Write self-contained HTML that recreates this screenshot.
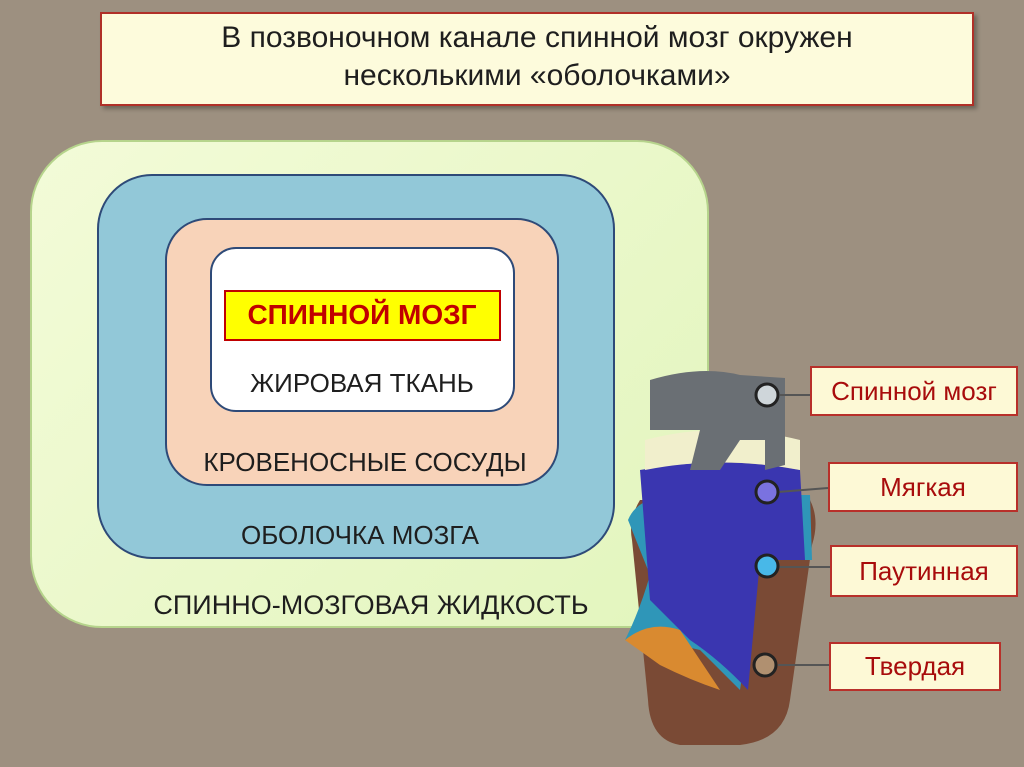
<!DOCTYPE html>
<html><head><meta charset="utf-8"><style>
html,body{margin:0;padding:0}
body{width:1024px;height:767px;background:#9d9080;position:relative;overflow:hidden;font-family:"Liberation Sans","DejaVu Sans",sans-serif}
.a{position:absolute;box-sizing:border-box}
.t{position:absolute;white-space:nowrap;transform:translateX(-50%);font-size:26px;color:#1e1e1e}
.lb{position:absolute;box-sizing:border-box;background:#fdf9d6;border:2px solid #b8302a;color:#a80c0c;font-size:26px;display:flex;align-items:center;justify-content:center}
</style></head><body>
<div class="a" style="left:100px;top:12px;width:874px;height:94px;background:#fdfbdc;border:2px solid #b03028;box-shadow:3px 3px 4px rgba(0,0,0,.3)"></div>
<div class="t" style="left:537px;top:21px;font-size:30px">В позвоночном канале спинной мозг окружен</div>
<div class="t" style="left:537px;top:59px;font-size:30px">несколькими «оболочками»</div>

<div class="a" style="left:30px;top:140px;width:679px;height:488px;border-radius:72px;background:linear-gradient(135deg,#f3fbd8,#e2f5bd);border:2px solid #b6d48c"></div>
<div class="a" style="left:97px;top:174px;width:518px;height:385px;border-radius:55px;background:#92c8d8;border:2px solid #2e4a78"></div>
<div class="a" style="left:165px;top:218px;width:394px;height:268px;border-radius:42px;background:#f8d3b9;border:2px solid #2e4a78"></div>
<div class="a" style="left:210px;top:247px;width:305px;height:165px;border-radius:26px;background:#fff;border:2px solid #2e4a78"></div>
<div class="a" style="left:224px;top:290px;width:277px;height:51px;background:#ffff00;border:2px solid #c00000"></div>
<div class="t" style="left:362px;top:299px;font-weight:bold;color:#c00000;font-size:28px">СПИННОЙ МОЗГ</div>
<div class="t" style="left:362px;top:368px">ЖИРОВАЯ ТКАНЬ</div>
<div class="t" style="left:365px;top:447px">КРОВЕНОСНЫЕ СОСУДЫ</div>
<div class="t" style="left:360px;top:520px">ОБОЛОЧКА МОЗГА</div>
<div class="t" style="left:371px;top:590px;font-size:27px">СПИННО-МОЗГОВАЯ ЖИДКОСТЬ</div>

<svg class="a" style="left:0;top:0" width="1024" height="767">
<path d="M632 540 Q628 520 640 500 L810 500 Q820 520 812 545 L790 700 Q785 740 740 745 L680 745 Q650 740 648 700 Z" fill="#7a4a35"/>
<path d="M628 520 Q640 490 700 495 L810 495 L812 560 L760 560 L740 690 L700 650 Q660 640 625 640 Q640 610 650 575 Z" fill="#2f96b8"/>
<path d="M640 470 Q720 455 800 470 L805 560 L760 560 L748 690 Q720 660 690 640 L650 600 Z" fill="#3a36b0"/>
<path d="M625 640 Q650 620 680 630 L720 690 Q690 680 660 665 Z" fill="#d98a30"/>
<path d="M645 440 Q720 420 800 440 L800 470 Q720 455 645 470 Z" fill="#f1efcc"/>
<path d="M650 380 Q700 365 740 375 L785 378 L785 465 L765 470 L765 440 L740 440 L720 470 L690 470 L700 430 L650 430 Z" fill="#6a6f74"/>
<g stroke="#555" stroke-width="2"><line x1="780" y1="395" x2="810" y2="395"/><line x1="778" y1="492" x2="828" y2="488"/><line x1="778" y1="567" x2="830" y2="567"/><line x1="778" y1="665" x2="829" y2="665"/></g>
<g stroke="#222" stroke-width="3"><circle cx="767" cy="395" r="11" fill="#cfd6da"/><circle cx="767" cy="492" r="11" fill="#7a72e0"/><circle cx="767" cy="566" r="11" fill="#48b8e8"/><circle cx="765" cy="665" r="11" fill="#b09070"/></g>
</svg>
<div class="lb" style="left:810px;top:366px;width:208px;height:50px">Спинной мозг</div>
<div class="lb" style="left:828px;top:462px;width:190px;height:50px">Мягкая</div>
<div class="lb" style="left:830px;top:545px;width:188px;height:52px">Паутинная</div>
<div class="lb" style="left:829px;top:642px;width:172px;height:49px">Твердая</div>
</body></html>
